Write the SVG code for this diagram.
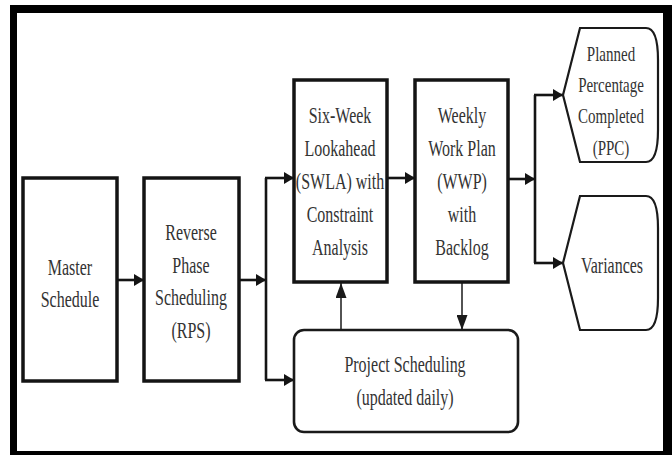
<svg xmlns="http://www.w3.org/2000/svg" width="672" height="455" viewBox="0 0 672 455">
<defs>
<style>
.box{fill:#fff;stroke:#141414;stroke-width:3.5}
.shape{fill:#fff;stroke:#1a1a1a;stroke-width:2.2}
.rnd{fill:#fff;stroke:#1a1a1a;stroke-width:2.6}
.con{fill:none;stroke:#141414;stroke-width:2.6}
.thin{fill:none;stroke:#1a1a1a;stroke-width:1.5}
text{font-family:"Liberation Serif","Times New Roman",serif;font-size:16px;fill:#333;text-anchor:middle}
.s15{font-size:15px}
</style>
<marker id="ah" markerUnits="userSpaceOnUse" markerWidth="10" markerHeight="12" refX="10" refY="6" orient="auto">
<path d="M0,0 L10,6 L0,12 Z" fill="#141414"/>
</marker>
<marker id="ahThin" markerUnits="userSpaceOnUse" markerWidth="15" markerHeight="11" refX="15" refY="5.5" orient="auto">
<path d="M0,0 L15,5.5 L0,11 Z" fill="#1a1a1a"/>
</marker>
</defs>
<rect x="0" y="0" width="672" height="455" fill="#fff"/>
<rect x="10" y="5" width="662" height="450" fill="#000"/>
<rect x="17" y="13" width="646" height="438" fill="#fff"/>

<g id="connectors">
<path class="con" d="M117,280 H144" marker-end="url(#ah)"/>
<path class="con" d="M239,280 H266" marker-end="url(#ah)"/>
<path class="con" d="M266,178 V380"/>
<path class="con" d="M265,178 H294" marker-end="url(#ah)"/>
<path class="con" d="M265,380 H294" marker-end="url(#ah)"/>
<path class="con" d="M387,178 H415" marker-end="url(#ah)"/>
<path class="con" d="M508,179 H535" marker-end="url(#ah)"/>
<path class="con" d="M535,95 V263"/>
<path class="con" d="M534,95 H563" marker-end="url(#ah)"/>
<path class="con" d="M534,263 H563" marker-end="url(#ah)"/>
<path class="thin" d="M341,330 V283" marker-end="url(#ahThin)"/>
<path class="thin" d="M462,283 V330" marker-end="url(#ahThin)"/>
</g>

<g id="master">
<rect class="box" x="23" y="178" width="94" height="203"/>
<text transform="translate(70,275) scale(1,1.4)">Master</text>
<text transform="translate(70,307) scale(1,1.4)">Schedule</text>
</g>

<g id="rps">
<rect class="box" x="144" y="178" width="95" height="203"/>
<text transform="translate(191,240) scale(1,1.4)">Reverse</text>
<text transform="translate(191,273) scale(1,1.4)">Phase</text>
<text transform="translate(191,305) scale(1,1.4)">Scheduling</text>
<text transform="translate(191,338) scale(1,1.4)">(RPS)</text>
</g>

<g id="swla">
<rect class="box" x="294" y="80" width="93" height="202"/>
<text transform="translate(340,123) scale(1,1.4)">Six-Week</text>
<text transform="translate(340,156) scale(1,1.4)">Lookahead</text>
<text transform="translate(340,189) scale(1,1.4)">(SWLA) with</text>
<text transform="translate(340,222) scale(1,1.4)">Constraint</text>
<text transform="translate(340,255) scale(1,1.4)">Analysis</text>
</g>

<g id="wwp">
<rect class="box" x="415" y="80" width="93" height="202"/>
<text transform="translate(462,123) scale(1,1.4)">Weekly</text>
<text transform="translate(462,156) scale(1,1.4)">Work Plan</text>
<text transform="translate(462,189) scale(1,1.4)">(WWP)</text>
<text transform="translate(462,222) scale(1,1.4)">with</text>
<text transform="translate(462,255) scale(1,1.4)">Backlog</text>
</g>

<g id="ppc">
<path class="shape" d="M580,28 L646,28 C655,28 658,42 658,60 L658,130 C658,148 655,162 646,162 L580,162 L563,95 Z"/>
<text class="s15" transform="translate(611,61) scale(1,1.4)">Planned</text>
<text class="s15" transform="translate(611,92) scale(1,1.4)">Percentage</text>
<text class="s15" transform="translate(611,123) scale(1,1.4)">Completed</text>
<text class="s15" transform="translate(611,155) scale(1,1.4)">(PPC)</text>
</g>

<g id="variances">
<path class="shape" d="M580,196 L646,196 C655,196 658,210 658,228 L658,298 C658,316 655,330 646,330 L580,330 L563,263 Z"/>
<text transform="translate(612,273) scale(1,1.4)">Variances</text>
</g>

<g id="project">
<rect class="rnd" x="294" y="330" width="224" height="102" rx="10" ry="10"/>
<text transform="translate(405,372) scale(1,1.4)">Project Scheduling</text>
<text transform="translate(405,405) scale(1,1.4)">(updated daily)</text>
</g>
</svg>
